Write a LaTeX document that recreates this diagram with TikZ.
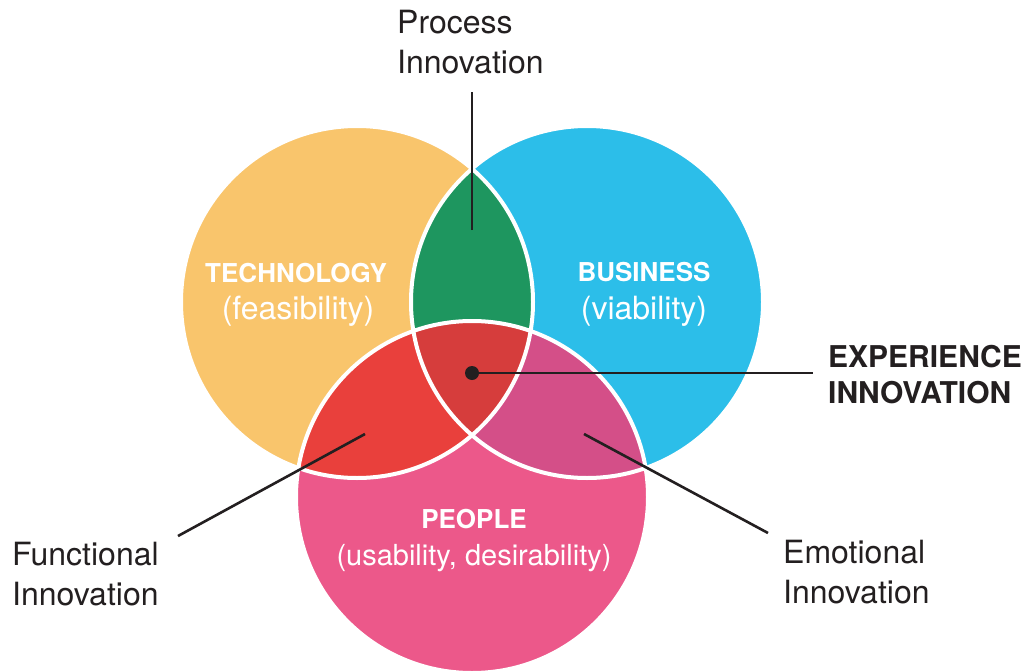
\documentclass[tikz,border=0pt]{standalone}
\usepackage{fontspec}
\setmainfont{TeX Gyre Heros}
\usetikzlibrary{positioning}
\definecolor{techorange}{RGB}{249, 197, 108}
\definecolor{busblue}{RGB}{44, 190, 233}
\definecolor{peoplepink}{RGB}{236, 88, 138}
\definecolor{procgreen}{RGB}{30, 150, 95}
\definecolor{funcred}{RGB}{233, 64, 60}
\definecolor{emomagenta}{RGB}{212, 79, 136}
\definecolor{expred}{RGB}{214, 61, 60}
\definecolor{inkblack}{RGB}{35, 31, 32}

\begin{document}
\begin{tikzpicture}[x=1pt, y=-1pt,
  circtitle/.style={anchor=base, text=white, font=\fontsize{26}{30}\selectfont\bfseries, inner sep=0pt},
  circsub/.style={anchor=base, text=white, font=\fontsize{32}{38}\selectfont, inner sep=0pt},
  outlabel/.style={anchor=base west, text=inkblack, font=\fontsize{32}{38}\selectfont, inner sep=0pt},
  leader/.style={draw=inkblack, line width=2.6pt}]
  \useasboundingbox (0,0) rectangle (1029,672);

  % ===== Circles =====
  \coordinate (tech) at (357,302);
  \coordinate (bus) at (587,302);
  \coordinate (people) at (472,497);

  \fill[techorange] (tech) circle[radius=176pt];
  \fill[busblue] (bus) circle[radius=176pt];
  \fill[peoplepink] (people) circle[radius=176pt];

  % Overlaps
  \begin{scope}
    \clip (bus) circle[radius=176pt];
    \fill[emomagenta] (people) circle[radius=176pt];
  \end{scope}
  \begin{scope}
    \clip (tech) circle[radius=176pt];
    \fill[procgreen] (bus) circle[radius=176pt];
    \fill[funcred] (people) circle[radius=176pt];
    \clip (bus) circle[radius=176pt];
    \fill[expred] (people) circle[radius=176pt];
  \end{scope}

  % White outlines
  \draw[white, line width=4pt] (tech) circle[radius=176pt];
  \draw[white, line width=4pt] (bus) circle[radius=176pt];
  \draw[white, line width=4pt] (people) circle[radius=176pt];

  % ===== Circle labels =====
  \node[circtitle] (techTitle) at (296,282) {TECHNOLOGY};
  \node[circsub] (techSub) at (298,319) {(feasibility)};
  \node[circtitle] (busTitle) at (644,281) {BUSINESS};
  \node[circsub] (busSub) at (644,319) {(viability)};
  \node[circtitle] (peopleTitle) at (474,528) {PEOPLE};
  \node[circsub, font=\fontsize{29}{35}\selectfont] (peopleSub) at (474,565) {(usability, desirability)};

  % ===== Outer labels =====
  \node[outlabel] (procA) at (397,33) {Process};
  \node[outlabel] (procB) at (397,73) {Innovation};
  \node[outlabel, font=\fontsize{30}{36}\selectfont\bfseries] (expA) at (828,367) {EXPERIENCE};
  \node[outlabel, font=\fontsize{30}{36}\selectfont\bfseries] (expB) at (828,403) {INNOVATION};
  \node[outlabel] (funcA) at (12,565) {Functional};
  \node[outlabel] (funcB) at (12,605) {Innovation};
  \node[outlabel] (emoA) at (783,563) {Emotional};
  \node[outlabel] (emoB) at (783,603) {Innovation};

  % ===== Leaders =====
  \coordinate (procTip) at (472,230);
  \coordinate (procEnd) at (472,92);
  \coordinate (expTip) at (472,373);
  \coordinate (expEnd) at (813,373);
  \coordinate (funcTip) at (365,434);
  \coordinate (funcEnd) at (178,536);
  \coordinate (emoTip) at (584,434);
  \coordinate (emoEnd) at (768,533);

  \draw[leader] (procTip) -- (procEnd);
  \draw[leader] (expTip) -- (expEnd);
  \fill[inkblack] (expTip) circle[radius=7pt];
  \draw[leader] (funcTip) -- (funcEnd);
  \draw[leader] (emoTip) -- (emoEnd);
\end{tikzpicture}
\end{document}
